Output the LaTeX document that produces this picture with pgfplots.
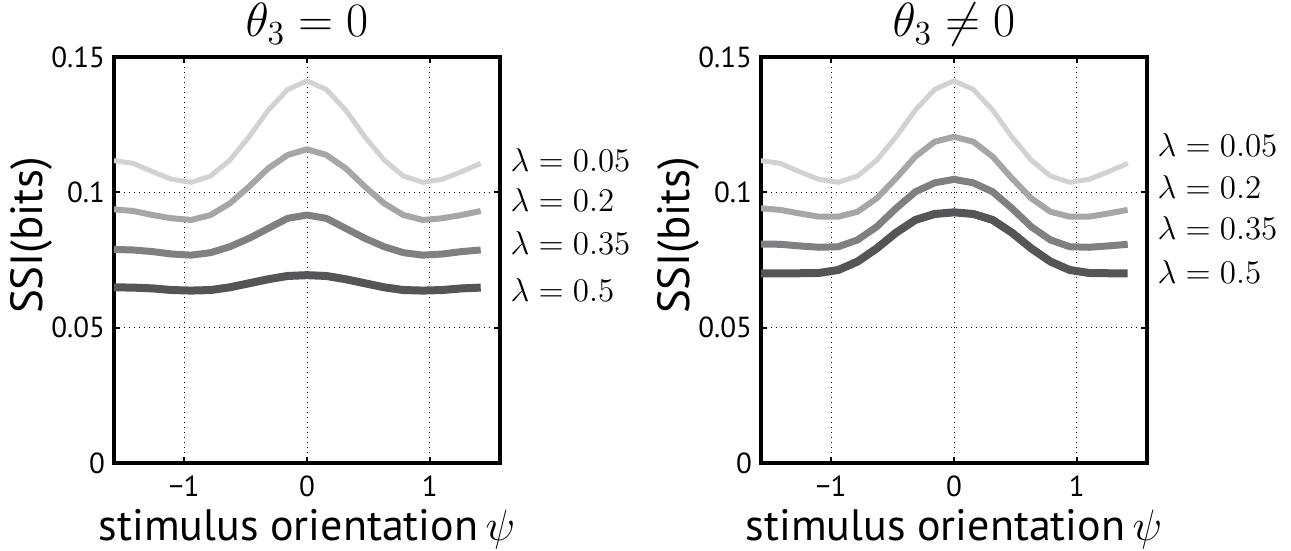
\RequirePackage{fix-cm}
\documentclass[border=0pt]{standalone}
\usepackage{fontspec}
\setmainfont{PT Sans}
\usepackage{pgfplots}
\usepackage{pgfplotstable}
\pgfplotsset{compat=1.18}
\definecolor{cA}{RGB}{210,210,210}
\definecolor{cB}{RGB}{166,166,168}
\definecolor{cC}{RGB}{128,128,130}
\definecolor{cD}{RGB}{85,85,87}

\pgfplotstableread{
x a b c d
-1.5708 0.1117 0.0937 0.0789 0.0649
-1.4137 0.1107 0.0931 0.0787 0.0648
-1.2566 0.1076 0.0916 0.0781 0.0645
-1.0996 0.1048 0.0904 0.0772 0.0639
-0.9425 0.1037 0.0898 0.0768 0.0637
-0.7854 0.1060 0.0916 0.0777 0.0639
-0.6283 0.1119 0.0959 0.0799 0.0649
-0.4712 0.1205 0.1021 0.0830 0.0664
-0.3142 0.1304 0.1089 0.0867 0.0679
-0.1571 0.1380 0.1138 0.0904 0.0691
0.0000 0.1412 0.1159 0.0916 0.0694
0.1571 0.1380 0.1138 0.0904 0.0691
0.3142 0.1304 0.1089 0.0867 0.0679
0.4712 0.1205 0.1021 0.0830 0.0664
0.6283 0.1119 0.0959 0.0799 0.0649
0.7854 0.1060 0.0916 0.0777 0.0639
0.9425 0.1037 0.0898 0.0768 0.0637
1.0996 0.1048 0.0904 0.0772 0.0639
1.2566 0.1076 0.0916 0.0781 0.0645
1.4137 0.1107 0.0931 0.0787 0.0648
}\leftdata

\pgfplotstableread{
x a b c d
-1.5708 0.1117 0.0941 0.0809 0.0701
-1.4137 0.1107 0.0935 0.0808 0.0701
-1.2566 0.1076 0.0922 0.0802 0.0701
-1.0996 0.1048 0.0910 0.0797 0.0702
-0.9425 0.1037 0.0910 0.0799 0.0713
-0.7854 0.1060 0.0928 0.0824 0.0744
-0.6283 0.1119 0.0978 0.0873 0.0793
-0.4712 0.1205 0.1052 0.0941 0.0851
-0.3142 0.1304 0.1132 0.1002 0.0898
-0.1571 0.1380 0.1187 0.1035 0.0920
0.0000 0.1412 0.1205 0.1048 0.0926
0.1571 0.1380 0.1187 0.1035 0.0920
0.3142 0.1304 0.1132 0.1002 0.0898
0.4712 0.1205 0.1052 0.0941 0.0851
0.6283 0.1119 0.0978 0.0873 0.0793
0.7854 0.1060 0.0928 0.0824 0.0744
0.9425 0.1037 0.0910 0.0799 0.0713
1.0996 0.1048 0.0910 0.0797 0.0702
1.2566 0.1076 0.0922 0.0802 0.0701
1.4137 0.1107 0.0935 0.0808 0.0701
}\rightdata

\tikzset{lam/.style={anchor=west, font=\fontsize{16.5}{19}\selectfont}}
\pgfplotsset{
  ssi/.style={
    scale only axis,
    width=193pt, height=203pt,
    xmin=-1.5708, xmax=1.5708, ymin=0, ymax=0.15,
    xtick={-1,0,1}, xticklabels={−1,0,1},
    ytick={0,0.05,0.1,0.15}, yticklabels={0,0.05,0.1,0.15},
    grid=major,
    major grid style={black, line width=0.5pt, dotted},
    axis line style={line width=2pt},
    tick align=inside, major tick length=3pt,
    tick style={black, line width=1pt},
    /pgf/number format/assume math mode=true,
    tick label style={font=\fontsize{14.5}{16}\selectfont},
    xticklabel style={yshift=-3pt},
    yticklabel style={xshift=-1pt},
    ylabel={SSI(bits)},
    ylabel style={at={(axis description cs:-0.215,0.56)}, anchor=center, font=\fontsize{22.5}{26}\selectfont},
    xlabel={stimulus orientation\,$\psi$},
    xlabel style={at={(axis description cs:0.5,-0.19)}, anchor=base, font=\fontsize{22}{26}\selectfont},
    title style={at={(axis description cs:0.5,1)}, anchor=base, yshift=4pt, font=\fontsize{24}{28}\selectfont},
    clip mode=individual,
    every axis plot/.append style={line join=round, no markers},
  },
}

\begin{document}
\begin{tikzpicture}
\useasboundingbox (0,0) rectangle (645.5pt,275.5pt);
\begin{axis}[ssi, at={(57pt,44pt)}, anchor=south west, title={$\theta_3 = 0$}]
\addplot[cA, line width=2.5pt] table[x=x,y=a] {\leftdata};
\addplot[cB, line width=3pt] table[x=x,y=b] {\leftdata};
\addplot[cC, line width=3.5pt] table[x=x,y=c] {\leftdata};
\addplot[cD, line width=4pt] table[x=x,y=d] {\leftdata};
\node[lam] at (axis cs:1.60,0.112) {$\lambda = 0.05$};
\node[lam] at (axis cs:1.60,0.0972) {$\lambda = 0.2$};
\node[lam] at (axis cs:1.60,0.0813) {$\lambda = 0.35$};
\node[lam] at (axis cs:1.60,0.0639) {$\lambda = 0.5$};
\end{axis}
\begin{axis}[ssi, at={(380.5pt,44pt)}, anchor=south west, title={$\theta_3 \neq 0$}]
\addplot[cA, line width=2.5pt] table[x=x,y=a] {\rightdata};
\addplot[cB, line width=3pt] table[x=x,y=b] {\rightdata};
\addplot[cC, line width=3.5pt] table[x=x,y=c] {\rightdata};
\addplot[cD, line width=4pt] table[x=x,y=d] {\rightdata};
\node[lam] at (axis cs:1.60,0.1175) {$\lambda = 0.05$};
\node[lam] at (axis cs:1.60,0.102) {$\lambda = 0.2$};
\node[lam] at (axis cs:1.60,0.0868) {$\lambda = 0.35$};
\node[lam] at (axis cs:1.60,0.0706) {$\lambda = 0.5$};
\end{axis}
\end{tikzpicture}
\end{document}
